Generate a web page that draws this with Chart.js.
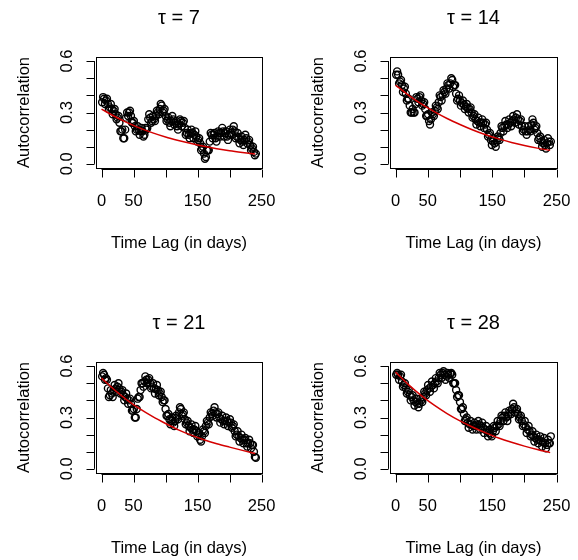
<!DOCTYPE html>
<html>
<head>
<meta charset="utf-8">
<script src="https://cdn.jsdelivr.net/npm/chart.js@4/dist/chart.umd.min.js"></script>
<style>
  html, body { margin: 0; padding: 0; background: #fff; }
  body { width: 578px; height: 560px; overflow: hidden; position: relative; }
  canvas { position: absolute; }
</style>
</head>
<body>
<canvas id="p1" width="289" height="300" style="left:0px;top:0px"></canvas>
<canvas id="p2" width="289" height="300" style="left:289px;top:0px"></canvas>
<canvas id="p3" width="289" height="300" style="left:0px;top:305px"></canvas>
<canvas id="p4" width="289" height="300" style="left:289px;top:305px"></canvas>
<script>
// lags (days) of the sample autocorrelations
const lagDays = [
  1, 4, 7, 10, 13, 16, 19, 22, 25, 28,
  31, 34, 37, 40, 43, 46, 49, 52, 55, 58,
  61, 64, 67, 70, 73, 76, 79, 82, 85, 88,
  91, 94, 97, 100, 103, 106, 109, 112, 115, 118,
  121, 124, 127, 130, 133, 136, 139, 142, 145, 148,
  151, 154, 157, 160, 163, 166, 169, 172, 175, 178,
  181, 184, 187, 190, 193, 196, 199, 202, 205, 208,
  211, 214, 217, 220, 223, 226, 229, 232, 235, 238,
  241
];
const lagDaysMid = [
  2.5, 5.5, 8.5, 11.5, 14.5, 17.5, 20.5, 23.5, 26.5, 29.5,
  32.5, 35.5, 38.5, 41.5, 44.5, 47.5, 50.5, 53.5, 56.5, 59.5,
  62.5, 65.5, 68.5, 71.5, 74.5, 77.5, 80.5, 83.5, 86.5, 89.5,
  92.5, 95.5, 98.5, 101.5, 104.5, 107.5, 110.5, 113.5, 116.5, 119.5,
  122.5, 125.5, 128.5, 131.5, 134.5, 137.5, 140.5, 143.5, 146.5, 149.5,
  152.5, 155.5, 158.5, 161.5, 164.5, 167.5, 170.5, 173.5, 176.5, 179.5,
  182.5, 185.5, 188.5, 191.5, 194.5, 197.5, 200.5, 203.5, 206.5, 209.5,
  212.5, 215.5, 218.5, 221.5, 224.5, 227.5, 230.5, 233.5, 236.5, 239.5
];

const acfTau7 = [
  0.36, 0.38, 0.37, 0.35, 0.33, 0.32, 0.31, 0.29, 0.27, 0.24,
  0.19, 0.15, 0.20, 0.30, 0.30, 0.28, 0.24, 0.22, 0.20, 0.20,
  0.19, 0.19, 0.17, 0.20, 0.26, 0.27, 0.25, 0.26, 0.28, 0.30,
  0.32, 0.34, 0.31, 0.28, 0.26, 0.24, 0.25, 0.26, 0.24, 0.22,
  0.23, 0.25, 0.24, 0.21, 0.18, 0.17, 0.18, 0.18, 0.17, 0.16,
  0.14, 0.12, 0.09, 0.06, 0.04, 0.08, 0.13, 0.17, 0.17, 0.15,
  0.16, 0.18, 0.18, 0.19, 0.18, 0.16, 0.17, 0.18, 0.20, 0.19,
  0.16, 0.15, 0.14, 0.13, 0.14, 0.15, 0.13, 0.11, 0.09, 0.07,
  0.06
];
const acfTau7Mid = [
  0.39, 0.35, 0.38, 0.32, 0.35, 0.29, 0.32, 0.26, 0.28, 0.19,
  0.20, 0.15, 0.27, 0.28, 0.31, 0.24, 0.25, 0.19, 0.22, 0.17,
  0.21, 0.16, 0.21, 0.21, 0.29, 0.24, 0.28, 0.25, 0.31, 0.29,
  0.35, 0.30, 0.32, 0.25, 0.27, 0.22, 0.28, 0.23, 0.25, 0.20,
  0.26, 0.22, 0.25, 0.17, 0.20, 0.15, 0.20, 0.15, 0.19, 0.13,
  0.15, 0.08, 0.10, 0.03, 0.08, 0.08, 0.18, 0.15, 0.18, 0.13,
  0.19, 0.16, 0.21, 0.16, 0.19, 0.14, 0.20, 0.17, 0.22, 0.15,
  0.18, 0.12, 0.16, 0.11, 0.17, 0.12, 0.14, 0.08, 0.10, 0.05
];

const acfTau14 = [
  0.52, 0.52, 0.48, 0.46, 0.44, 0.41, 0.38, 0.34, 0.30, 0.30,
  0.35, 0.38, 0.39, 0.37, 0.35, 0.32, 0.28, 0.25, 0.26, 0.29,
  0.31, 0.33, 0.36, 0.39, 0.40, 0.42, 0.44, 0.46, 0.47, 0.49,
  0.46, 0.41, 0.38, 0.37, 0.355, 0.345, 0.335, 0.325, 0.32, 0.30,
  0.28, 0.26, 0.25, 0.24, 0.24, 0.24, 0.23, 0.20, 0.17, 0.14,
  0.13, 0.12, 0.13, 0.15, 0.18, 0.21, 0.22, 0.23, 0.23, 0.24,
  0.25, 0.26, 0.27, 0.26, 0.25, 0.22, 0.20, 0.19, 0.19, 0.20,
  0.23, 0.24, 0.21, 0.18, 0.15, 0.13, 0.12, 0.11, 0.12, 0.13,
  0.13
];
const acfTau14Mid = [
  0.54, 0.47, 0.49, 0.42, 0.45, 0.37, 0.38, 0.30, 0.32, 0.30,
  0.39, 0.36, 0.40, 0.34, 0.36, 0.28, 0.29, 0.23, 0.30, 0.28,
  0.34, 0.32, 0.40, 0.37, 0.43, 0.41, 0.47, 0.44, 0.50, 0.45,
  0.46, 0.37, 0.40, 0.34, 0.37, 0.32, 0.35, 0.30, 0.33, 0.27,
  0.29, 0.23, 0.27, 0.22, 0.26, 0.21, 0.24, 0.16, 0.18, 0.11,
  0.15, 0.10, 0.16, 0.14, 0.22, 0.19, 0.25, 0.21, 0.26, 0.22,
  0.28, 0.24, 0.29, 0.23, 0.26, 0.19, 0.22, 0.17, 0.22, 0.19,
  0.26, 0.20, 0.22, 0.14, 0.16, 0.10, 0.14, 0.09, 0.15, 0.11
];

const acfTau21 = [
  0.54, 0.55, 0.53, 0.47, 0.43, 0.44, 0.46, 0.47, 0.48, 0.47,
  0.45, 0.43, 0.42, 0.41, 0.40, 0.38, 0.34, 0.30, 0.35, 0.42,
  0.46, 0.50, 0.51, 0.52, 0.52, 0.50, 0.48, 0.47, 0.465, 0.46,
  0.44, 0.42, 0.40, 0.35, 0.31, 0.29, 0.28, 0.27, 0.28, 0.30,
  0.33, 0.35, 0.32, 0.29, 0.27, 0.25, 0.24, 0.23, 0.23, 0.22,
  0.20, 0.17, 0.19, 0.22, 0.25, 0.27, 0.30, 0.32, 0.34, 0.33,
  0.32, 0.30, 0.29, 0.28, 0.28, 0.28, 0.27, 0.27, 0.25, 0.22,
  0.20, 0.19, 0.18, 0.17, 0.17, 0.15, 0.15, 0.15, 0.14, 0.10,
  0.065
];
const acfTau21Mid = [
  0.56, 0.52, 0.52, 0.42, 0.46, 0.42, 0.49, 0.45, 0.50, 0.44,
  0.46, 0.40, 0.44, 0.38, 0.41, 0.34, 0.35, 0.30, 0.41, 0.42,
  0.50, 0.48, 0.54, 0.50, 0.53, 0.47, 0.50, 0.44, 0.49, 0.43,
  0.45, 0.39, 0.40, 0.31, 0.32, 0.26, 0.30, 0.25, 0.31, 0.29,
  0.36, 0.31, 0.33, 0.26, 0.28, 0.22, 0.26, 0.21, 0.25, 0.19,
  0.21, 0.16, 0.23, 0.21, 0.28, 0.26, 0.33, 0.31, 0.36, 0.30,
  0.33, 0.27, 0.31, 0.26, 0.30, 0.25, 0.29, 0.24, 0.26, 0.19,
  0.22, 0.16, 0.20, 0.15, 0.18, 0.13, 0.17, 0.12, 0.14, 0.07
];

const acfTau28 = [
  0.55, 0.55, 0.54, 0.51, 0.49, 0.47, 0.45, 0.43, 0.42, 0.40,
  0.39, 0.38, 0.38, 0.40, 0.42, 0.44, 0.46, 0.47, 0.48, 0.49,
  0.50, 0.51, 0.53, 0.55, 0.56, 0.55, 0.54, 0.55, 0.555, 0.55,
  0.50, 0.46, 0.43, 0.39, 0.35, 0.32, 0.29, 0.27, 0.26, 0.26,
  0.25, 0.25, 0.26, 0.26, 0.25, 0.24, 0.23, 0.22, 0.21, 0.20,
  0.22, 0.24, 0.25, 0.26, 0.28, 0.30, 0.31, 0.30, 0.31, 0.33,
  0.35, 0.36, 0.34, 0.32, 0.30, 0.28, 0.26, 0.245, 0.23, 0.22,
  0.20, 0.19, 0.18, 0.17, 0.17, 0.16, 0.155, 0.15, 0.14, 0.15,
  0.19
];
const acfTau28Mid = [
  0.56, 0.52, 0.55, 0.48, 0.50, 0.44, 0.46, 0.40, 0.43, 0.37,
  0.41, 0.36, 0.41, 0.39, 0.45, 0.43, 0.49, 0.45, 0.51, 0.47,
  0.53, 0.50, 0.56, 0.53, 0.57, 0.52, 0.56, 0.53, 0.56, 0.50,
  0.50, 0.42, 0.43, 0.35, 0.36, 0.28, 0.30, 0.24, 0.28, 0.23,
  0.27, 0.23, 0.28, 0.23, 0.27, 0.21, 0.25, 0.19, 0.23, 0.19,
  0.25, 0.22, 0.28, 0.25, 0.31, 0.28, 0.33, 0.28, 0.34, 0.32,
  0.38, 0.33, 0.35, 0.29, 0.31, 0.25, 0.28, 0.21, 0.25, 0.19,
  0.22, 0.16, 0.20, 0.15, 0.19, 0.13, 0.18, 0.12, 0.17, 0.15
];

// red fitted curves, read at every 20 days
const fitDays = [0, 20, 40, 60, 80, 100, 120, 140, 160, 180, 200, 220, 240];
const fitTau7 = [0.32, 0.278, 0.241, 0.209, 0.181, 0.157, 0.137, 0.119, 0.103, 0.089, 0.077, 0.067, 0.058];
const fitTau14 = [0.46, 0.402, 0.35, 0.305, 0.265, 0.23, 0.198, 0.17, 0.146, 0.125, 0.107, 0.092, 0.079];
const fitTau21 = [0.53, 0.462, 0.402, 0.35, 0.305, 0.265, 0.228, 0.197, 0.17, 0.147, 0.127, 0.108, 0.09];
const fitTau28 = [0.565, 0.492, 0.428, 0.372, 0.323, 0.28, 0.243, 0.21, 0.18, 0.155, 0.133, 0.113, 0.095];

const panelTitles = ['\u03c4 = 7', '\u03c4 = 14', '\u03c4 = 21', '\u03c4 = 28'];
const xTickValues = [0, 50, 100, 150, 200, 250];
const xLabelValues = [0, 50, 150, 250];
const yTickValues = [0, 0.1, 0.2, 0.3, 0.4, 0.5, 0.6];
const yLabelValues = [0, 0.3, 0.6];
const xAxisTitle = 'Time Lag (in days)';
const yAxisTitle = 'Autocorrelation';

const FONT = '"Liberation Sans", Arial, Helvetica, sans-serif';

// draws the R style box, axes, tick labels and titles
const rAxesPlugin = {
  id: 'rAxes',
  afterDraw(chart) {
    const ctx = chart.ctx;
    const a = chart.chartArea;
    const xs = chart.scales.x;
    const ys = chart.scales.y;
    const title = chart.options.plugins.rAxes.title;
    ctx.save();
    ctx.strokeStyle = '#000';
    ctx.fillStyle = '#000';
    ctx.lineWidth = 1;

    // box
    ctx.strokeRect(Math.round(a.left) + 0.5, Math.round(a.top) + 0.5,
      Math.round(a.right - a.left), Math.round(a.bottom - a.top));

    // x axis
    const xAxisY = Math.round(a.bottom) + 1.5;
    ctx.beginPath();
    ctx.moveTo(xs.getPixelForValue(xTickValues[0]), xAxisY);
    ctx.lineTo(xs.getPixelForValue(xTickValues[xTickValues.length - 1]), xAxisY);
    xTickValues.forEach(v => {
      const px = Math.round(xs.getPixelForValue(v)) + 0.5;
      ctx.moveTo(px, xAxisY);
      ctx.lineTo(px, xAxisY + 8);
    });
    ctx.stroke();

    // y axis
    const yAxisX = Math.round(a.left) - 1.5;
    ctx.beginPath();
    ctx.moveTo(yAxisX, ys.getPixelForValue(yTickValues[0]));
    ctx.lineTo(yAxisX, ys.getPixelForValue(yTickValues[yTickValues.length - 1]));
    yTickValues.forEach(v => {
      const py = Math.round(ys.getPixelForValue(v)) + 0.5;
      ctx.moveTo(yAxisX, py);
      ctx.lineTo(yAxisX - 8, py);
    });
    ctx.stroke();

    ctx.font = '16.5px ' + FONT;
    ctx.textAlign = 'center';
    ctx.textBaseline = 'middle';
    xLabelValues.forEach(v => {
      ctx.fillText(String(v), xs.getPixelForValue(v), a.bottom + 33);
    });
    yLabelValues.forEach(v => {
      ctx.save();
      ctx.translate(a.left - 29, ys.getPixelForValue(v));
      ctx.rotate(-Math.PI / 2);
      ctx.fillText(v.toFixed(1), 0, 0);
      ctx.restore();
    });

    // axis titles
    const midX = (a.left + a.right) / 2;
    const midY = (a.top + a.bottom) / 2;
    ctx.fillText(xAxisTitle, midX, a.bottom + 75);
    ctx.save();
    ctx.translate(a.left - 71.5, midY);
    ctx.rotate(-Math.PI / 2);
    ctx.fillText(yAxisTitle, 0, 0);
    ctx.restore();

    // main title
    ctx.font = '20px ' + FONT;
    ctx.fillText(title, midX, 18);
    ctx.restore();
  }
};

function makePanel(canvasId, title, acf, acfMid, fit, padLeft, padRight) {
  const points = lagDays.map((d, i) => ({ x: d, y: acf[i] }))
    .concat(lagDaysMid.map((d, i) => ({ x: d, y: acfMid[i] })));
  const curve = fitDays.map((d, i) => ({ x: d, y: fit[i] }));
  new Chart(document.getElementById(canvasId), {
    type: 'scatter',
    data: {
      datasets: [
        {
          data: points,
          order: 1,
          showLine: false,
          pointStyle: 'circle',
          pointRadius: 3.5,
          pointBorderWidth: 1.4,
          pointBorderColor: '#000',
          pointBackgroundColor: 'rgba(0,0,0,0)'
        },
        {
          type: 'line',
          data: curve,
          order: 0, // red curve sits on top of the circles
          borderColor: '#d40000',
          borderWidth: 1.5,
          pointRadius: 0,
          fill: false,
          cubicInterpolationMode: 'monotone'
        }
      ]
    },
    options: {
      responsive: false,
      animation: false,
      devicePixelRatio: 1,
      layout: { padding: { left: padLeft, right: padRight, top: 57, bottom: 132 } },
      scales: {
        x: { type: 'linear', min: -8.6, max: 250.6, display: false },
        y: { type: 'linear', min: -0.024, max: 0.624, display: false }
      },
      plugins: {
        legend: { display: false },
        tooltip: { enabled: false },
        rAxes: { title: title }
      }
    },
    plugins: [rAxesPlugin]
  });
}

makePanel('p1', panelTitles[0], acfTau7, acfTau7Mid, fitTau7, 96, 27);
makePanel('p2', panelTitles[1], acfTau14, acfTau14Mid, fitTau14, 101, 21);
makePanel('p3', panelTitles[2], acfTau21, acfTau21Mid, fitTau21, 96, 27);
makePanel('p4', panelTitles[3], acfTau28, acfTau28Mid, fitTau28, 101, 21);
</script>
</body>
</html>
